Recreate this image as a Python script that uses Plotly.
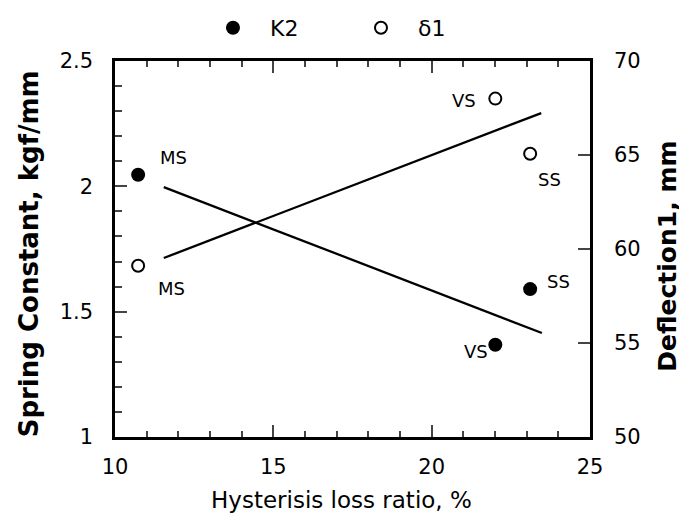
import plotly.graph_objects as go

# ---- data ----
x_ratio = [10.73, 22.01, 23.11]          # Hysterisis loss ratio, %
labels = ["MS", "VS", "SS"]
k2 = [2.046, 1.368, 1.590]               # Spring constant, kgf/mm
d1 = [59.11, 68.0, 65.07]                # Deflection1, mm

k2_fit_x = [11.54, 23.48]
k2_fit_y = [1.997, 1.415]
d1_fit_x = [11.54, 23.46]
d1_fit_y = [59.52, 67.23]

x_title = "Hysterisis loss ratio, %"
y_title = "Spring Constant, kgf/mm"
y2_title = "Deflection1, mm"

# label pixel offsets (style)
k2_off = [(35, -17), (-19, 7), (28, -8)]
d1_off = [(33, 23), (-31, 2), (19, 26)]

FONT = "DejaVu Sans"

fig = go.Figure()
fig.add_trace(go.Scatter(x=k2_fit_x, y=k2_fit_y, mode="lines",
                         line=dict(color="black", width=2.3), showlegend=False))
fig.add_trace(go.Scatter(x=d1_fit_x, y=d1_fit_y, mode="lines", yaxis="y2",
                         line=dict(color="black", width=2.3), showlegend=False))
fig.add_trace(go.Scatter(x=x_ratio, y=k2, mode="markers", name="K2",
                         marker=dict(symbol="circle", size=14, color="black")))
fig.add_trace(go.Scatter(x=x_ratio, y=d1, mode="markers", name="δ1", yaxis="y2",
                         marker=dict(symbol="circle-open", size=12, color="black",
                                     line=dict(width=2, color="black"))))

ann = []
for xv, yv, t, (dx, dy) in zip(x_ratio, k2, labels, k2_off):
    ann.append(dict(x=xv, y=yv, xref="x", yref="y", text=t, showarrow=False,
                    xshift=dx, yshift=-dy, font=dict(family=FONT, size=18, color="black")))
for xv, yv, t, (dx, dy) in zip(x_ratio, d1, labels, d1_off):
    ann.append(dict(x=xv, y=yv, xref="x", yref="y2", text=t, showarrow=False,
                    xshift=dx, yshift=-dy, font=dict(family=FONT, size=18, color="black")))

# axis titles
ann.append(dict(text=x_title, xref="paper", yref="paper", x=0.476, y=-0.1676,
                xanchor="center", yanchor="middle", showarrow=False,
                font=dict(family=FONT, size=23, color="black")))
ann.append(dict(text="<b>" + y_title + "</b>", xref="paper", yref="paper",
                x=-0.181, y=0.486, xanchor="center", yanchor="middle",
                textangle=-90, showarrow=False,
                font=dict(family=FONT, size=26, color="black")))
ann.append(dict(text="<b>" + y2_title + "</b>", xref="paper", yref="paper",
                x=1.164, y=0.482, xanchor="center", yanchor="middle",
                textangle=-90, showarrow=False,
                font=dict(family=FONT, size=25, color="black")))

fig.update_layout(
    width=687, height=516,
    margin=dict(l=107, r=105, t=53, b=87, autoexpand=False),
    paper_bgcolor="white", plot_bgcolor="white",
    font=dict(family=FONT, size=21, color="black"),
    annotations=ann,
    legend=dict(orientation="h", x=0.1705, y=1.0878, xanchor="left", yanchor="middle",
                font=dict(family=FONT, size=22), entrywidth=69, itemwidth=64,
                bgcolor="rgba(0,0,0,0)"),
    xaxis=dict(range=[10, 25], dtick=5, tick0=10, ticks="inside", ticklen=12,
               tickwidth=2, showline=True, linewidth=2.5, linecolor="black",
               mirror="ticks", showgrid=False, zeroline=False,
               ticklabelstandoff=9, automargin=False,
               minor=dict(dtick=1, ticks="inside", ticklen=6, tickwidth=2,
                          showgrid=False)),
    yaxis=dict(range=[1, 2.5], dtick=0.5, tick0=1, ticks="inside", ticklen=12,
               tickwidth=2, showline=True, linewidth=2.5, linecolor="black",
               showgrid=False, zeroline=False, ticklabelstandoff=15,
               automargin=False,
               minor=dict(dtick=0.1, ticks="inside", ticklen=7, tickwidth=2,
                          showgrid=False)),
    yaxis2=dict(range=[50, 70], dtick=5, tick0=50, overlaying="y", side="right",
                ticks="inside", ticklen=12, tickwidth=2, showline=True,
                linewidth=2.5, linecolor="black", showgrid=False, zeroline=False,
                ticklabelstandoff=17, automargin=False),
)

fig.write_html("out.html")
